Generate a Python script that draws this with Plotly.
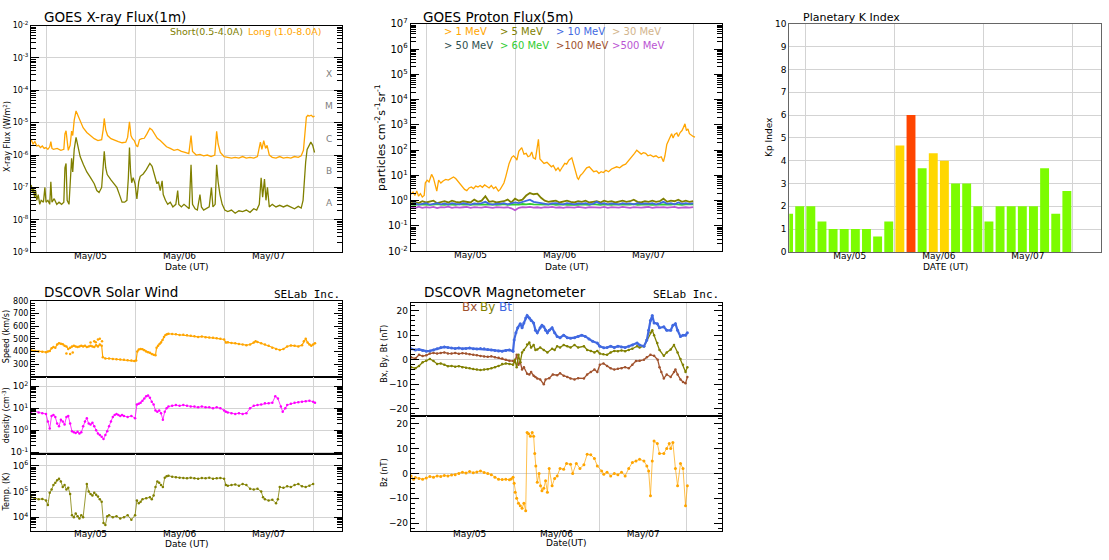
import plotly.graph_objects as go

W, H = 1109, 560
def fx(px): return px / W
def fy(py): return 1 - py / H

# ---------------- data (time in hours from May 05 00:00 UT) ----------------
tick_hours = [12, 36, 60]
tick_labels = ['May/05', 'May/06', 'May/07']
day_bounds = [0, 24, 48, 72]

xray_long = [(-4.0,3.0e-6),(-3.5,2.2e-6),(-3.0,2.6e-6),(-2.5,1.9e-6),(-2.0,2.0e-6),(-1.5,1.7e-6),(-1.0,1.9e-6),(-0.5,1.6e-6),
    (0.0,1.7e-6),(0.5,1.5e-6),(1.0,1.8e-6),(1.3,2.6e-6),(1.6,1.6e-6),(2.0,1.5e-6),(3.0,1.6e-6),(4.0,1.4e-6),(4.8,1.5e-6),
    (5.1,4.5e-6),(5.4,5.6e-6),(5.7,2.0e-6),(6.0,1.4e-6),(6.5,2.0e-6),(6.9,5.5e-6),(7.2,4.0e-6),(7.6,1.2e-5),(8.1,2.3e-5),
    (8.6,1.7e-5),(9.2,1.1e-5),(10.0,7.0e-6),(11.0,5.0e-6),(12.0,4.0e-6),(13.0,3.2e-6),(14.0,2.8e-6),(15.0,3.0e-6),
    (15.4,6.0e-6),(15.7,1.35e-5),(16.1,6.0e-6),(16.6,4.0e-6),(17.5,3.2e-6),(18.5,2.8e-6),(19.5,2.6e-6),(20.5,2.4e-6),
    (21.5,2.5e-6),(22.0,3.5e-6),(22.5,1.07e-5),(22.9,4.0e-6),(23.3,3.2e-6),(23.8,2.8e-6),(24.3,2.0e-6),(24.7,1.8e-6),
    (25.2,3.0e-6),(25.8,3.2e-6),(26.5,3.3e-6),(27.2,4.5e-6),(28.0,6.7e-6),(28.6,6.0e-6),(29.3,4.2e-6),(30.0,3.3e-6),
    (30.8,2.8e-6),(31.6,2.3e-6),(32.5,1.8e-6),(33.5,1.6e-6),(34.5,1.4e-6),(35.5,1.5e-6),(36.5,1.3e-6),(37.5,1.2e-6),
    (38.5,1.1e-6),(39.1,4.0e-6),(39.5,1.3e-6),(40.5,1.0e-6),(41.5,1.05e-6),(42.5,0.95e-6),(43.5,1.0e-6),(44.5,0.9e-6),
    (45.5,1.0e-6),(46.0,5.4e-6),(46.4,2.2e-6),(47.0,1.2e-6),(48.0,0.9e-6),(49.0,0.85e-6),(50.0,0.8e-6),(51.0,0.85e-6),
    (52.0,0.8e-6),(53.0,0.9e-6),(54.0,0.8e-6),(55.0,0.85e-6),(56.0,0.8e-6),(57.0,0.9e-6),(57.8,2.5e-6),(58.2,1.5e-6),
    (58.7,2.8e-6),(59.2,1.6e-6),(59.6,2.0e-6),(60.2,1.0e-6),(61.0,0.85e-6),(62.0,0.8e-6),(63.0,0.9e-6),(64.0,0.8e-6),
    (65.0,0.85e-6),(66.0,0.8e-6),(67.0,0.9e-6),(68.0,0.85e-6),(68.8,0.95e-6),(69.4,1.4e-6),(69.8,4.0e-6),(70.2,1.5e-5),
    (70.6,1.7e-5),(71.0,1.6e-5),(71.5,1.7e-5),(72.0,1.5e-5),(72.4,1.6e-5)]

xray_short = [(-4.0,1.2e-7),(-3.7,7e-8),(-3.4,1.0e-7),(-3.1,5e-8),(-2.8,8e-8),(-2.5,4e-8),(-2.1,6e-8),(-1.7,3e-8),(-1.3,4e-8),
    (-0.7,3.5e-8),(-0.3,1.0e-7),(0.0,3.5e-8),(0.5,4e-8),(1.0,3e-8),(1.3,1.5e-7),(1.6,3.5e-8),(2.2,4.5e-8),(2.9,3e-8),
    (3.5,3.5e-8),(4.2,3e-8),(4.8,3.5e-8),(5.1,4e-7),(5.4,5.5e-7),(5.7,4e-8),(6.2,3e-8),(6.6,3e-7),(6.9,8e-7),(7.2,3e-7),
    (7.6,1.5e-6),(8.1,3.5e-6),(8.6,2.0e-6),(9.2,9e-7),(10.1,5e-7),(11.0,3e-7),(12.0,2e-7),(13.0,1.3e-7),(13.7,8e-8),
    (14.3,7e-8),(15.0,1.0e-7),(15.4,4e-7),(15.7,1.3e-6),(16.1,4e-7),(16.5,2.5e-7),(17.5,1.7e-7),(18.5,1.2e-7),(19.1,1.0e-7),
    (19.8,6e-8),(20.5,3.5e-8),(21.2,3.5e-8),(21.8,4e-8),(22.2,2e-7),(22.5,1.7e-6),(22.8,3e-7),(23.1,1.4e-7),(23.5,2e-7),
    (24.0,1.3e-7),(24.5,4.4e-8),(25.0,1.5e-7),(25.4,2.2e-7),(26.2,2.6e-7),(27.0,3.5e-7),(28.0,5.5e-7),(28.6,4.5e-7),
    (29.3,2.5e-7),(29.9,1.3e-7),(30.3,1.5e-7),(30.8,8e-8),(31.3,1.6e-7),(31.6,6e-8),(32.2,4e-8),(32.8,3e-8),(33.5,3.5e-8),
    (34.2,2.5e-8),(35.0,3e-8),(35.5,8e-8),(35.8,3e-8),(36.5,2.5e-8),(37.2,3e-8),(37.9,2.5e-8),(38.6,2.2e-8),(39.1,5e-7),
    (39.5,3e-8),(40.2,2.2e-8),(40.8,2e-8),(41.5,6e-8),(41.9,2.5e-8),(42.5,2e-8),(43.2,2.2e-8),(44.0,2.5e-8),(44.6,1.0e-7),
    (45.0,2.5e-8),(45.6,3e-8),(46.0,5e-7),(46.4,1.5e-7),(46.9,6e-8),(47.5,3e-8),(48.2,2e-8),(49.0,1.8e-8),(50.0,2e-8),
    (51.0,1.6e-8),(52.0,1.9e-8),(53.0,1.8e-8),(54.0,2e-8),(55.0,1.7e-8),(56.0,2.2e-8),(56.8,2e-8),(57.5,3e-8),(58.0,2e-7),
    (58.4,5e-8),(58.9,1.8e-7),(59.3,4e-8),(59.7,1.0e-7),(60.2,2.5e-8),(61.0,3e-8),(62.0,2.5e-8),(63.0,2.8e-8),(64.0,2.5e-8),
    (65.0,2.8e-8),(66.0,2.5e-8),(67.0,2.2e-8),(68.0,2.6e-8),(68.8,2.3e-8),(69.3,4e-8),(69.6,1.5e-7),(70.0,6e-7),(70.4,1.5e-6),
    (70.9,2.0e-6),(71.4,2.5e-6),(71.9,2.0e-6),(72.4,1.2e-6)]

proton_1mev = [(-4.1,1.8),(-3.5,2.2),(-3.0,1.6),(-2.5,2.4),(-2.0,1.5),(-1.5,1.9),(-1.0,1.4),(-0.5,1.6),(-0.2,5),(0.3,6.5),
    (0.8,5.5),(1.5,11),(2.0,8),(2.5,4),(2.9,2.4),(3.4,6.5),(4.0,5),(4.6,6),(5.3,7),(6.0,6.5),(6.8,8),(7.4,8.7),(8.0,7.5),
    (8.6,6),(9.2,4.5),(9.8,3.5),(10.4,2.8),(11.0,2.5),(11.6,3.2),(12.2,3.5),(12.8,3.0),(13.4,3.8),(14.0,3.5),(14.6,4.0),
    (15.2,3.4),(15.8,4.2),(16.4,3.8),(17.0,3.2),(17.6,4.0),(18.2,3.0),(18.8,3.5),(19.5,2.4),(20.0,2.8),(20.4,3.5),(21.0,5),
    (21.5,9),(21.8,14),(22.4,30),(23.1,52),(23.6,60),(24.2,48),(24.5,40),(25.0,90),(25.4,110),(25.8,126),(26.4,70),
    (27.0,75),(27.5,55),(28.0,60),(28.5,85),(28.9,50),(29.5,45),(30.0,150),(30.3,268),(30.7,45),(31.2,38),(31.8,30),
    (32.6,33),(33.2,28),(33.8,22),(34.3,25),(35.0,16),(35.6,20),(36.1,15),(36.8,22),(37.4,30),(37.9,28),(38.5,40),
    (39.3,50),(39.8,25),(40.3,12),(40.8,8),(41.1,7),(41.6,10),(42.2,12),(42.8,16),(43.3,20),(44.0,22),(44.6,17),(45.2,14),
    (46.0,15),(46.6,12),(47.2,14),(47.8,13),(48.5,16),(49.2,14),(50.0,18),(50.7,20),(51.4,22),(52.2,20),(53.0,25),
    (53.8,28),(54.4,35),(55.0,45),(55.6,60),(56.2,75),(56.8,100),(57.4,80),(58.0,70),(58.6,80),(59.2,75),(59.8,60),
    (60.5,65),(61.3,55),(62.0,60),(62.7,50),(63.4,55),(64.0,35),(64.4,60),(64.9,170),(65.3,220),(65.8,320),(66.2,450),
    (66.6,300),(67.0,420),(67.6,480),(68.0,350),(68.5,500),(69.0,600),(69.4,800),(69.8,1100),(70.2,600),(70.6,700),
    (71.0,450),(71.5,380),(72.0,350),(72.5,330)]

proton_hours = [-4,-3,-2,-1,0,1,2,3,4,5,6,7,8,9,10,11,12,13,14,15,16,17,18,19,20,21,22,23,24,25,26,27,28,29,30,31,32,33,34,
    35,36,37,38,39,40,41,42,43,44,45,46,47,48,49,50,51,52,53,54,55,56,57,58,59,60,61,62,63,64,65,66,67,68,69,70,71,72]
proton_5mev = [0.85,0.9,0.8,0.95, 0.85,0.9,1.0,0.8,0.9,0.95,0.85,1.0,0.9,0.85, 0.95,0.9,0.85,1.1,0.9,1.0,1.5,0.9,0.95,0.85,
    0.9,0.95,1.1,0.85,1.2,1.0,1.1,1.6,2.0,1.8, 1.9,1.3,1.0,0.9,0.95,1.0,0.85,0.9,1.0,0.9, 0.85,0.95,0.9,1.0,0.85,0.9,0.95,
    0.85,1.0,0.9, 0.95,0.85,0.9,1.0,0.9,0.95,1.1,0.9,0.85,0.95, 0.9,1.0,0.9,0.95,1.2,0.9,1.0,0.95,1.1,0.9, 1.0,0.9,0.95]
proton_10mev = [0.75,0.8,0.7,0.75, 0.8,0.7,0.75,0.8,0.72,0.78,0.7,0.8,0.75,0.72, 0.8,0.75,0.7,0.78,0.75,0.8,0.9,0.75,0.7,0.76,
    0.75,0.8,0.72,0.78,0.85,0.8,0.9,1.0,1.1,0.9, 0.85,0.8,0.75,0.72,0.78,0.8,0.75,0.72,0.8,0.75, 0.72,0.78,0.75,0.8,0.72,
    0.75,0.9,0.75,0.8,0.72, 0.78,0.75,0.72,0.8,0.75,0.78,0.72,0.8,0.75,0.78, 0.75,0.8,0.72,0.78,0.9,0.75,0.8,0.72,0.85,0.75,
    0.8,0.75,0.78]
proton_60mev = [0.7,0.68,0.72,0.7, 0.72,0.68,0.7,0.74,0.7,0.68,0.72,0.7,0.69,0.73, 0.7,0.72,0.68,0.71,0.7,0.73,0.69,0.7,0.72,
    0.68, 0.7,0.73,0.69,0.71,0.72,0.7,0.74,0.72,0.75,0.71, 0.7,0.72,0.69,0.7,0.73,0.68,0.7,0.72,0.69,0.71, 0.7,0.68,0.72,
    0.7,0.69,0.73,0.7,0.68,0.72,0.7, 0.69,0.71,0.7,0.72,0.68,0.7,0.73,0.69,0.7,0.72, 0.7,0.68,0.71,0.7,0.72,0.69,0.7,0.73,
    0.7,0.68, 0.71,0.7,0.72]
proton_500mev = [0.55,0.5,0.58,0.52, 0.56,0.53,0.57,0.51,0.55,0.54,0.58,0.52,0.56,0.53, 0.55,0.57,0.52,0.56,0.54,0.53,0.57,
    0.55,0.52,0.56, 0.54,0.53,0.55,0.5,0.42,0.52,0.56,0.54,0.57,0.53, 0.55,0.52,0.56,0.54,0.57,0.53,0.55,0.52,0.56,0.54,
    0.53,0.57,0.55,0.52,0.56,0.54,0.55,0.53,0.57,0.52, 0.56,0.54,0.53,0.57,0.55,0.52,0.56,0.54,0.53,0.55, 0.57,0.52,0.55,
    0.54,0.56,0.53,0.55,0.57,0.52,0.54, 0.55,0.53,0.56]

kp_hours = [-4.5,-1.5,1.5,4.5,7.5,10.5,13.5,16.5,19.5,22.5,25.5,28.5,31.5,34.5,37.5,40.5,43.5,46.5,49.5,52.5,55.5,58.5,
    61.5,64.5,67.5,70.5]
kp_values = [1.67,2,2,1.33,1,1,1,1,0.67,1.33,4.67,6,3.67,4.33,4,3,3,2,1.33,2,2,2,2,3.67,1.67,2.67]

sw_speed = [(-4.0,410),(-3.0,405),(-2.0,400),(-1.0,398),(0.0,395),(0.5,400),(1.0,405),(1.5,425),(2.0,435),(2.5,430),
    (3.0,455),(3.5,465),(4.0,462),(4.5,458),(5.0,445),(5.5,440),(6.0,420),(6.5,430),(7.0,440),(7.5,445),(8.0,440),
    (8.5,435),(9.0,440),(9.5,445),(10.0,440),(10.5,445),(11.0,435),(11.5,440),(12.0,445),(12.5,440),(13.0,435),(13.5,450),
    (14.0,440),(14.5,455),(15.0,445),(15.3,355),
    (16.0,345),(17.0,345),(18.0,342),(19.0,340),(20.0,338),(21.0,335),(22.0,332),(23.0,330),(23.8,325),(24.3,330),
    (24.6,400),(25.0,415),(25.5,420),(26.0,418),(26.5,410),(27.0,400),(27.5,395),(28.0,390),(28.5,380),(29.0,375),
    (29.5,370),(29.8,430),(30.2,445),(30.6,460),(31.0,470),(31.4,490),(31.8,515),(32.2,530),(32.6,535),(33.0,540),
    (34.0,538),(35.0,535),(36.0,530),(37.0,532),(38.0,528),(39.0,525),(40.0,520),(41.0,515),(42.0,518),(43.0,512),
    (44.0,510),(45.0,508),(46.0,505),(47.0,500),(48.0,495),(48.5,470),(49.0,472),(50.0,468),(51.0,465),(52.0,460),
    (53.0,455),(54.0,450),(55.0,455),(56.0,470),(56.5,480),(57.0,475),(58.0,465),(59.0,455),(60.0,445),(61.0,430),
    (62.0,420),(63.0,412),(64.0,420),(65.0,440),(66.0,448),(67.0,445),(68.0,440),(69.0,450),(69.5,480),(70.0,500),
    (70.5,470),(71.0,455),(71.5,445),(72.0,455),(72.5,465)]
sw_speed_outliers = [(5.5,385),(6.5,380),(7.2,392),(12.0,470),(13.0,480),(13.4,472),(14.0,495),(14.5,500),(15.1,480)]

sw_density = [(-4.0,7),(-3.0,7.5),(-2.0,6.5),(-1.0,6),(0.0,5.5),(0.5,2.5),(1.0,1.2),(1.5,4.5),(2.0,5),(2.5,4),(3.0,2),
    (3.5,1.5),(4.0,3),(4.5,2.5),(5.0,1.8),(5.5,4),(6.0,4.5),(6.5,2),(7.0,0.9),(7.5,0.8),(8.0,0.75),(8.5,0.85),(9.0,0.7),
    (9.5,0.8),(10.0,1.5),(10.5,2.5),(11.0,3.5),(11.5,2),(12.0,1.8),(12.5,2.2),(13.0,1.5),(13.5,1.0),(14.0,0.7),(14.5,0.6),
    (15.0,0.5),(15.5,0.4),(16.0,0.6),(16.5,0.9),(17.0,1.5),(17.5,2.5),(18.0,4),(18.5,5),(19.0,5.5),(19.5,5),(20.0,4.5),
    (20.5,5),(21.0,4.5),(22.0,4),(23.0,4.5),(24.0,3.5),(24.5,15),(25.0,16),(25.5,18),(26.0,22),(26.5,28),(27.0,35),
    (27.5,38),(28.0,30),(28.5,20),(29.0,15),(29.5,8),(30.0,7),(30.5,8),(31.0,6),(31.5,3),(32.0,7),(32.5,10),(33.0,12),
    (34.0,13),(35.0,14),(36.0,13),(37.0,14),(38.0,13),(39.0,12),(40.0,12),(41.0,11),(42.0,12),(43.0,11),(44.0,11),
    (45.0,10),(46.0,11),(47.0,10),(48.0,8),(48.5,7),(49.0,6.5),(50.0,6),(51.0,5.5),(52.0,6),(53.0,5.5),(54.0,6),
    (55.0,10),(56.0,13),(57.0,14),(58.0,15),(59.0,17),(60.0,17),(61.0,18),(61.8,35),(62.5,28),(63.3,12),(63.8,7),
    (64.5,10),(65.0,14),(66.0,16),(67.0,18),(68.0,19),(69.0,20),(70.0,21),(71.0,22),(72.0,20),(72.5,18)]

sw_temp = [(-4.0,6e4),(-3.0,5.5e4),(-2.0,5e4),(-1.0,5.2e4),(0.0,4.5e4),(0.5,3e4),(1.0,9e4),(1.5,1.2e5),(2.0,1.8e5),
    (2.5,2.2e5),(3.0,2.8e5),(3.5,3.2e5),(4.0,2.5e5),(4.5,1.5e5),(5.0,1.8e5),(5.5,1.2e5),(6.0,1.4e5),(6.5,8e4),(7.0,1.2e4),
    (7.5,1.0e4),(8.0,1.4e4),(8.5,1.1e4),(9.0,9e3),(9.5,1.2e4),(10.0,1.0e4),(11.0,2e5),(11.5,1e5),(12.0,8e4),(12.5,7e4),
    (13.0,9e4),(13.5,7.5e4),(14.0,6.5e4),(14.5,5e4),(15.0,4e4),(15.5,6e3),(16.0,5e3),(16.5,1.1e4),(17.0,1.2e4),
    (18.0,1.0e4),(19.0,1.1e4),(20.0,9e3),(21.0,1.0e4),(22.0,1.2e4),(23.0,8e3),(24.0,1.2e4),(24.5,4.5e4),(25.0,3.5e4),
    (25.5,4e4),(26.0,5e4),(27.0,5.5e4),(28.0,6e4),(28.5,5e4),(29.0,7e4),(29.5,1.5e5),(30.0,2.5e5),(30.5,2.2e5),
    (31.0,1.8e5),(31.5,1.5e5),(32.0,3.5e5),(32.5,4e5),(33.0,4.2e5),(34.0,3.8e5),(35.0,3.6e5),(36.0,3.5e5),(37.0,3.4e5),
    (38.0,3.3e5),(39.0,3.5e5),(40.0,3.3e5),(41.0,3.2e5),(42.0,3.4e5),(43.0,3.3e5),(44.0,3.5e5),(45.0,3.2e5),(46.0,3.3e5),
    (47.0,3.4e5),(48.0,3.2e5),(48.5,1.8e5),(49.0,1.7e5),(50.0,1.8e5),(51.0,1.9e5),(52.0,1.7e5),(53.0,2e5),(54.0,1.8e5),
    (55.0,1.3e5),(56.0,1.2e5),(57.0,1.3e5),(58.0,1.0e5),(58.5,6e4),(59.0,5e4),(60.0,4.5e4),(61.0,4.8e4),(62.0,3.5e4),
    (62.5,5e4),(63.0,1.5e5),(64.0,1.4e5),(65.0,1.6e5),(66.0,1.5e5),(67.0,1.8e5),(68.0,2e5),(69.0,1.6e5),(70.0,1.5e5),
    (71.0,1.7e5),(72.0,2e5)]

mag_bt = [(-4.2,4.5),(-3,4.0),(-2,4.2),(-1,3.8),(0,3.5),(1,3.6),(2,4.0),(3,4.5),(4,5.0),(5,5.2),(6,5.0),(7,4.8),(8,4.6),
    (9,4.8),(10,4.5),(11,4.6),(12,4.8),(13,4.5),(14,4.4),(15,4.6),(16,4.5),(17,4.2),(18,4.0),(19,3.8),(20,3.6),(21,3.5),
    (22,3.8),(23,4.0),(24,3.5),(24.3,8),(24.8,11),(25.3,13),(26,14.7),(26.5,13),(27,15),(27.5,17),(27.9,18),(28.5,17),
    (29,16),(29.7,15),(30.2,12),(30.7,11),(31.5,13),(32,14),(32.5,13.4),(33,12),(33.5,11),(34,12),(34.8,13),(35.5,11),
    (36.2,9.5),(37,9),(38,10),(39,9),(39.9,8.8),(41,9),(42,9.5),(43,10),(44,9.5),(45,8.5),(46,7.5),(47.3,6.8),(48,5.5),
    (49.1,4.9),(50,5),(51,5.5),(52,5),(53,5.5),(54,5.2),(55,5.0),(56,5.5),(57,6.0),(58.3,6.8),(59,6),(60.2,5.5),(61,8),
    (61.5,12),(62,16),(62.5,18),(63,15),(63.9,14.7),(64.5,13),(65.7,13.4),(66.5,12),(67.6,12),(68.2,14),(68.9,14.7),
    (69.5,12),(70.3,9.5),(71,10),(71.7,10),(72.2,11)]

mag_bx = [(-4.2,1.0),(-3,0.5),(-2,2.0),(-1,1.5),(0,1.8),(1,2.5),(2,2.8),(3,2.5),(4,2.8),(5,3.0),(6,2.6),(7,2.5),(8,2.8),
    (9,2.4),(10,2.7),(11,2.5),(12,2.2),(13,2.0),(14,1.8),(15,1.5),(16,1.3),(17,1.2),(18,1.4),(19,1.0),(20,0.8),(21,0.5),
    (22,0),(23,-0.4),(24,-0.5),(24.5,-1),(25,2),(25.5,-2),(26,-1),(26.5,-4),(27,-3),(27.9,-5.7),(28.5,-6),(29,-5),
    (29.7,-6.5),(30.2,-7),(30.7,-7.6),(31.5,-8),(32.5,-10),(33,-8),(34,-7.5),(35,-6),(36.2,-6.3),(37,-5.5),(38,-6.5),
    (39,-7),(39.9,-7.6),(41,-8),(42,-7.5),(43.6,-7.6),(44.5,-6),(45.5,-5),(46.5,-4),(47.3,-5),(48,-2),(49,-1.5),(50,-2.5),
    (51,-3.5),(52,-4),(53,-3.7),(54,-3.5),(55,-3),(56,-3.5),(57,-2),(58,-0.5),(59,-0.4),(60.2,0),(61,1),(62,2),(63,1.6),
    (64,0),(64.5,-3),(65,-5),(65.7,-7.6),(66.5,-6),(67.6,-7),(68.5,-5),(68.9,-4),(69.5,-6),(70.3,-8),(71,-9),(71.7,-9.6),
    (72.2,-7)]

mag_by = [(-4.2,-3),(-3,-3.5),(-2,-2.5),(-1,-1),(0,-0.4),(1,0.3),(2,-0.5),(3,-1.7),(4,-1.5),(5,-2.0),(6,-2.6),(7,-2.5),
    (8,-2.8),(9,-2.6),(10,-3),(11,-3.2),(12,-3.5),(13,-3.8),(14,-4),(15,-4.2),(16,-4.0),(17,-3.9),(18,-3.5),(19,-3.0),
    (20,-2.5),(21,-1.7),(22,-1.5),(23,-1.7),(24,-2),(24.5,0),(25,-3),(25.5,2),(26,-1),(26.5,3),(27,4),(27.9,6.2),(28.5,7),
    (29,5),(29.7,6),(30.2,4),(30.7,4.2),(31.5,5),(32.5,4),(33.5,3),(34.8,4.5),(35.5,4),(36.2,5.5),(37,5),(38,6),(39,5.5),
    (39.9,5),(41,6),(42,5),(43.6,5.5),(44.5,4),(45.5,3.6),(46.5,3),(47.3,3.6),(48,2.5),(49,2.2),(50,2),(51,3),(52,3.6),
    (53,3.5),(54,3.8),(55,3.5),(56,4),(57,4.5),(58.3,5.5),(59,5),(60.2,5.5),(61,8),(62,11),(62.5,12),(63,10),(63.9,6.8),
    (64.5,4),(65.7,1.6),(66.5,3),(67.6,4.2),(68.5,6),(69.5,3),(70.3,0.3),(71,-2),(71.7,-5),(72.2,-3)]

mag_bz = [(-4.2,-1),(-3.5,-2.3),(-3,-1.6),(-2,-2),(-1,-2.3),(0,-1.8),(1,-1.2),(2,-1.5),(3,-1.0),(4,-1.2),(5,-0.8),(6,-1.0),
    (7,-0.6),(8,-0.5),(9,0),(10,0.5),(11,0.2),(12,0.8),(13,0.3),(14,0.6),(15,1.0),(16,0.4),(17,0),(18,-0.5),(19,-1.5),
    (20,-2.3),(21,-2.5),(22,-2.3),(23,-2.6),(23.5,-2.2),(24,-1.5),(24.3,-4),(24.6,-7.6),(25,-10),(25.5,-12),(26,-13),
    (26.5,-14),(27,-12),(27.5,-15),(27.9,16.5),(28.3,16),(28.8,15),(29.3,16.5),(29.7,15),(30,8),(30.3,3),(30.7,-3.6),
    (31.2,0),(31.6,-5),(32,-7),(32.5,-6),(33,-3),(33.5,-7.6),(34,2),(34.8,-5),(35.5,-2),(36.2,-1),(37,2),(38,1.7),(38.8,4),
    (39.9,3.7),(40.5,0),(41.5,4),(42.5,2),(43.6,3.5),(44.5,7.7),(45.5,7.5),(46.5,6),(47.3,3),(48.5,1),(49.1,-0.3),
    (50,0.5),(51,-1),(52,0),(53,-0.5),(54,0.5),(55,-1),(56,2),(57,4.4),(58,5),(59,5.7),(60.2,5),(61,3),(61.5,1),(62,-9),
    (62.5,5),(63,13),(63.9,12),(64.5,8),(65.7,8),(66.5,10),(67.2,12),(67.6,10),(68.2,12.4),(68.9,2),(69.5,-5),(70.3,4),
    (71,2),(71.7,-13),(72.2,-5)]

# ---------------- styling ----------------
ORANGE = '#FFA500'; OLIVE = '#808000'; BLUE = '#4169E1'; TAN = '#D2B48C'; SLATE = '#2F4F4F'
LGREEN = '#32CD32'; SIENNA = '#A0522D'; ORCHID = '#BA55D3'; MAGENTA = '#FF00FF'
GRID = '#D3D3D3'
FONT = 'DejaVu Sans'

def unz(pairs):
    return [p[0] for p in pairs], [p[1] for p in pairs]

fig = go.Figure()

def line(pairs, color, xa, ya, width=1.3, mode='lines', size=2.5):
    x, y = unz(pairs)
    fig.add_trace(go.Scatter(x=x, y=y, mode=mode, line=dict(color=color, width=width),
                             marker=dict(color=color, size=size), xaxis=xa, yaxis=ya, showlegend=False))

# X-ray
line(xray_long, ORANGE, 'x', 'y')
line(xray_short, OLIVE, 'x', 'y')
# Protons
for series, col in [(proton_5mev, OLIVE), (proton_60mev, LGREEN), (proton_10mev, BLUE), (proton_500mev, ORCHID)]:
    fig.add_trace(go.Scatter(x=proton_hours, y=series, mode='lines', line=dict(color=col, width=1.8),
                             xaxis='x2', yaxis='y2', showlegend=False))
line(proton_1mev, ORANGE, 'x2', 'y2')
# Kp
kp_colors = ['#FF4500' if v >= 5 else ('#FFD700' if v >= 4 else '#7CFC00') for v in kp_values]
fig.add_trace(go.Bar(x=kp_hours, y=kp_values, width=2.4, marker=dict(color=kp_colors, line=dict(width=0)),
                     xaxis='x3', yaxis='y3', showlegend=False))
# Solar wind
line(sw_speed, ORANGE, 'x4', 'y4', mode='lines+markers', width=1.2, size=2.5)
line(sw_speed_outliers, ORANGE, 'x4', 'y4', mode='markers', size=2.5)
line(sw_density, MAGENTA, 'x5', 'y5', mode='lines+markers', width=0.8, size=2.5)
line(sw_temp, OLIVE, 'x6', 'y6', mode='lines+markers', width=0.8, size=2.5)
# Magnetometer
line(mag_bx, SIENNA, 'x7', 'y7', mode='lines+markers', width=1.3, size=2.5)
line(mag_by, OLIVE, 'x7', 'y7', mode='lines+markers', width=1.3, size=2.5)
line(mag_bt, BLUE, 'x7', 'y7', mode='lines+markers', width=2.2, size=3)
line(mag_bz, ORANGE, 'x8', 'y8', mode='lines+markers', width=0.7, size=3)

def xaxis(px0, px1, rng, anchor, labels=True):
    return dict(domain=[fx(px0), fx(px1)], range=rng, anchor=anchor, tickmode='array', tickvals=tick_hours,
                ticktext=tick_labels, showticklabels=labels, ticks='', showgrid=False, zeroline=False,
                minor=dict(tickmode='array', tickvals=day_bounds, showgrid=True, gridcolor=GRID, ticks=''),
                showline=True, linecolor='black', linewidth=1, mirror=True, ticklabelstandoff=-5,
                tickfont=dict(size=9, family=FONT, color='black'))

def ylog(py0, py1, rng, anchor, fsize=8, grid=True):
    decades = list(range(int(rng[0]) - 1, int(rng[1]) + 2))
    minor_vals = [m * 10.0 ** e for e in decades for m in range(2, 10)]
    return dict(domain=[fy(py1), fy(py0)], type='log', range=rng, anchor=anchor, tickmode='array',
                tickvals=[10.0 ** e for e in decades], ticktext=['10<sup>%d</sup>' % e for e in decades],
                ticks='inside', ticklen=8, tickcolor='black', tickwidth=1.2,
                minor=dict(tickmode='array', tickvals=minor_vals, ticks='inside', ticklen=5, tickcolor='black',
                           tickwidth=1, showgrid=False),
                showline=True, linecolor='black', linewidth=1, mirror='ticks', showgrid=grid, gridcolor=GRID,
                zeroline=False, tickfont=dict(size=fsize, family=FONT, color='black'))

def ylin(py0, py1, rng, anchor, tickvals, minor_dt, fsize=9, zeroline=False):
    return dict(domain=[fy(py1), fy(py0)], range=rng, anchor=anchor, tickmode='array', tickvals=tickvals,
                ticks='inside', ticklen=8, tickcolor='black', tickwidth=1.2,
                minor=dict(ticks='inside', ticklen=4, tickcolor='black', dtick=minor_dt, showgrid=False),
                showline=True, linecolor='black', linewidth=1, mirror='ticks', showgrid=False,
                zeroline=zeroline, zerolinecolor=GRID, zerolinewidth=1,
                tickfont=dict(size=fsize, family=FONT, color='black'))

layout = dict(width=W, height=H, margin=dict(l=0, r=0, t=0, b=0), paper_bgcolor='white', plot_bgcolor='white',
              font=dict(family=FONT, color='black'), showlegend=False)

layout['xaxis'] = xaxis(31, 342, [-4.05, 79.8], 'y')
layout['yaxis'] = ylog(19, 251, [-9, -2], 'x', fsize=8)
layout['xaxis2'] = xaxis(410.7, 721.7, [-4.13, 79.7], 'y2')
layout['yaxis2'] = ylog(17.3, 250, [-2, 7], 'x2', fsize=10, grid=False)
layout['xaxis3'] = xaxis(789.3, 1101, [-4.3, 79.7], 'y3')
layout['xaxis3']['linecolor'] = '#666666'
layout['yaxis3'] = dict(domain=[fy(250.7), fy(17.3)], range=[0, 10], anchor='x3', tickmode='linear', tick0=0, dtick=1,
                        ticks='', showline=True, linecolor='#666666', mirror=True, showgrid=True, gridcolor=GRID,
                        zeroline=False, tickfont=dict(size=9, family=FONT, color='black'))
layout['xaxis4'] = xaxis(31, 341.7, [-4.05, 79.7], 'y4', labels=False)
layout['yaxis4'] = ylin(300.7, 378.7, [200, 800], 'x4', [300, 400, 500, 600, 700, 800], 20, fsize=8)
layout['xaxis5'] = xaxis(31, 341.7, [-4.05, 79.7], 'y5', labels=False)
layout['yaxis5'] = ylog(378.7, 457.3, [-1.07, 2.43], 'x5', fsize=9)
layout['xaxis6'] = xaxis(31, 341.7, [-4.05, 79.7], 'y6')
layout['yaxis6'] = ylog(457.3, 536, [3.48, 6.48], 'x6', fsize=9)
layout['xaxis7'] = xaxis(410.7, 721.7, [-4.3, 81.7], 'y7', labels=False)
layout['yaxis7'] = ylin(303.3, 419, [-23, 23], 'x7', [-20, -10, 0, 10, 20], 2, zeroline=True)
layout['xaxis8'] = xaxis(410.7, 721.7, [-4.3, 81.7], 'y8')
layout['yaxis8'] = ylin(419, 536, [-23, 23], 'x8', [-20, -10, 0, 10, 20], 2, zeroline=True)
# guide-line axes (no ticks/labels): proton panel split into 7 equal bands, speed reference at 400 km/s
layout['yaxis9'] = dict(overlaying='y2', anchor='x2', range=[0, 7], tickmode='array', tickvals=[1, 2, 3, 4, 5, 6],
                        showticklabels=False, ticks='', showline=False, showgrid=True, gridcolor=GRID, zeroline=False)
layout['yaxis10'] = dict(overlaying='y4', anchor='x4', range=[200, 800], tickmode='array', tickvals=[400],
                         showticklabels=False, ticks='', showline=False, showgrid=True, gridcolor=GRID, zeroline=False)

fig.update_layout(**layout)

ann = []
def text(px, py, s, size=10, color='black', xa='left', ya='middle', angle=0, family=FONT):
    ann.append(dict(x=fx(px), y=fy(py), xref='paper', yref='paper', text=s, showarrow=False, xanchor=xa,
                    yanchor=ya, textangle=angle, font=dict(size=size, color=color, family=family)))

# titles
text(42, 10, 'GOES X-ray Flux(1m)', size=13.5)
text(421, 10, 'GOES Proton Flux(5m)', size=13.5)
text(801, 11, 'Planetary K Index', size=11)
text(42, 292, 'DSCOVR Solar Wind', size=13.5)
text(422, 292, 'DSCOVR Magnetometer', size=13.5)
text(342, 294, 'SELab Inc.', size=11, xa='right', family='DejaVu Sans Mono')
text(721, 294, 'SELab Inc.', size=11, xa='right', family='DejaVu Sans Mono')

# legends
text(245, 25, 'Short(0.5-4.0A)', size=9.5, color=OLIVE, xa='right')
text(324, 25, 'Long (1.0-8.0A)', size=9.5, color=ORANGE, xa='right')
for lbl, col, px, py in [('> 1 MeV', ORANGE, 441.5, 25), ('> 5 MeV', OLIVE, 498, 25), ('> 10 MeV', BLUE, 554, 25),
                         ('> 30 MeV', TAN, 610, 25), ('> 50 MeV', SLATE, 441.5, 39), ('> 60 MeV', LGREEN, 498, 39),
                         ('>100 MeV', SIENNA, 554, 39), ('>500 MeV', ORCHID, 610, 39)]:
    text(px, py, lbl, size=10, color=col)
text(460, 307, 'Bx', size=12, color=SIENNA)
text(478, 307, 'By', size=12, color=OLIVE)
text(497, 307, 'Bt', size=12, color=BLUE)

# flare classes
for s, py in [('X', 68.7), ('M', 101.8), ('C', 134.9), ('B', 168), ('A', 201.1)]:
    text(329, py, s, size=9, color='#808080', xa='center')

# axis titles
text(7, 133, 'X-ray Flux (W/m<sup>2</sup>)', size=8, xa='center', angle=-90)
text(381, 134, 'particles cm<sup>-2</sup>s<sup>-1</sup>sr<sup>-1</sup>', size=11, xa='center', angle=-90)
text(769, 133, 'Kp Index', size=9, xa='center', angle=-90)
text(6, 338, 'Speed (km/s)', size=8, xa='center', angle=-90)
text(6, 418, 'density (cm<sup>-3</sup>)', size=8, xa='center', angle=-90)
text(6, 497, 'Temp. (K)', size=8, xa='center', angle=-90)
text(385, 355, 'Bx, By, Bt (nT)', size=8, xa='center', angle=-90)
text(385, 477, 'Bz (nT)', size=8, xa='center', angle=-90)
text(186, 266, 'Date (UT)', size=9, xa='center')
text(566, 266, 'Date (UT)', size=9, xa='center')
text(945, 266, 'DATE (UT)', size=9, xa='center')
text(186, 550, 'Date (UT)', size=9, xa='center')
text(566, 549, 'Date(UT)', size=9, xa='center')

fig.update_layout(annotations=ann)
fig.write_html('out.html')
